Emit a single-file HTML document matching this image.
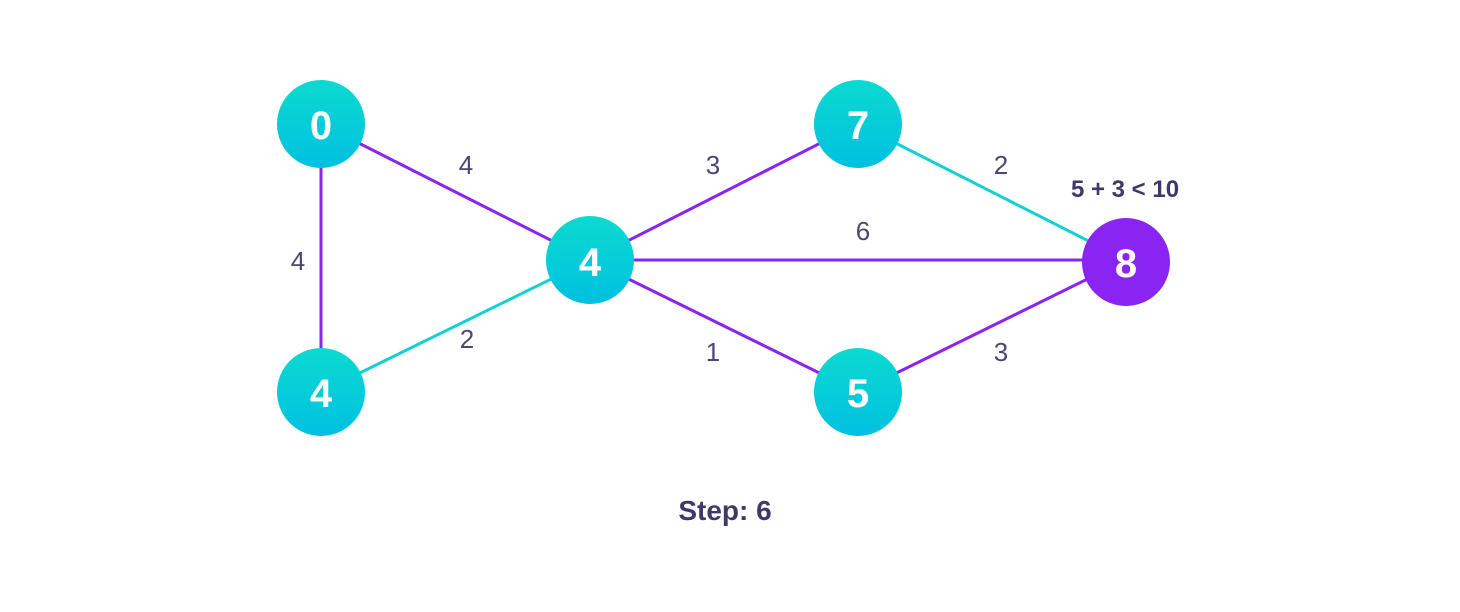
<!DOCTYPE html>
<html><head><meta charset="utf-8"><style>
html,body{margin:0;padding:0;background:#fff;}
svg{display:block;}
</style></head><body>
<svg width="1460" height="612" viewBox="0 0 1460 612" xmlns="http://www.w3.org/2000/svg" font-family="Liberation Sans, DejaVu Sans, sans-serif">
<defs>
<linearGradient id="g" x1="0" y1="0" x2="0" y2="1">
<stop offset="0" stop-color="#0bdad0"/><stop offset="1" stop-color="#00c0e0"/>
</linearGradient>
</defs>
<g stroke-width="3">
<line x1="321" y1="124" x2="321" y2="392" stroke="#8a24f2"/>
<line x1="321" y1="124" x2="590" y2="260" stroke="#8a24f2"/>
<line x1="321" y1="392" x2="590" y2="260" stroke="#12d0d4"/>
<line x1="590" y1="260" x2="858" y2="124" stroke="#8a24f2"/>
<line x1="590" y1="260" x2="1126" y2="260" stroke="#8a24f2"/>
<line x1="590" y1="260" x2="858" y2="392" stroke="#8a24f2"/>
<line x1="858" y1="124" x2="1126" y2="260" stroke="#12d0d4"/>
<line x1="858" y1="392" x2="1126" y2="260" stroke="#8a24f2"/>
</g>
<g fill="url(#g)">
<circle cx="321" cy="124" r="44"/>
<circle cx="321" cy="392" r="44"/>
<circle cx="590" cy="260" r="44"/>
<circle cx="858" cy="124" r="44"/>
<circle cx="858" cy="392" r="44"/>
</g>
<circle cx="1126" cy="262" r="44" fill="#8a24f2"/>
<g fill="#fff" font-size="40" font-weight="bold" text-anchor="middle">
<text x="321" y="139">0</text>
<text x="321" y="407">4</text>
<text x="590" y="276">4</text>
<text x="858" y="139">7</text>
<text x="858" y="407">5</text>
<text x="1126" y="277">8</text>
</g>
<g fill="#4a4775" font-size="26" text-anchor="middle">
<text x="466" y="174">4</text>
<text x="298" y="270">4</text>
<text x="467" y="348">2</text>
<text x="713" y="174">3</text>
<text x="863" y="240">6</text>
<text x="713" y="361">1</text>
<text x="1001" y="174">2</text>
<text x="1001" y="361">3</text>
</g>
<text x="1125" y="197" fill="#3d3a6b" font-size="24" font-weight="bold" text-anchor="middle">5 + 3 &lt; 10</text>
<text x="725" y="520" fill="#3d3a6b" font-size="28" font-weight="bold" text-anchor="middle">Step: 6</text>
</svg>
</body></html>
